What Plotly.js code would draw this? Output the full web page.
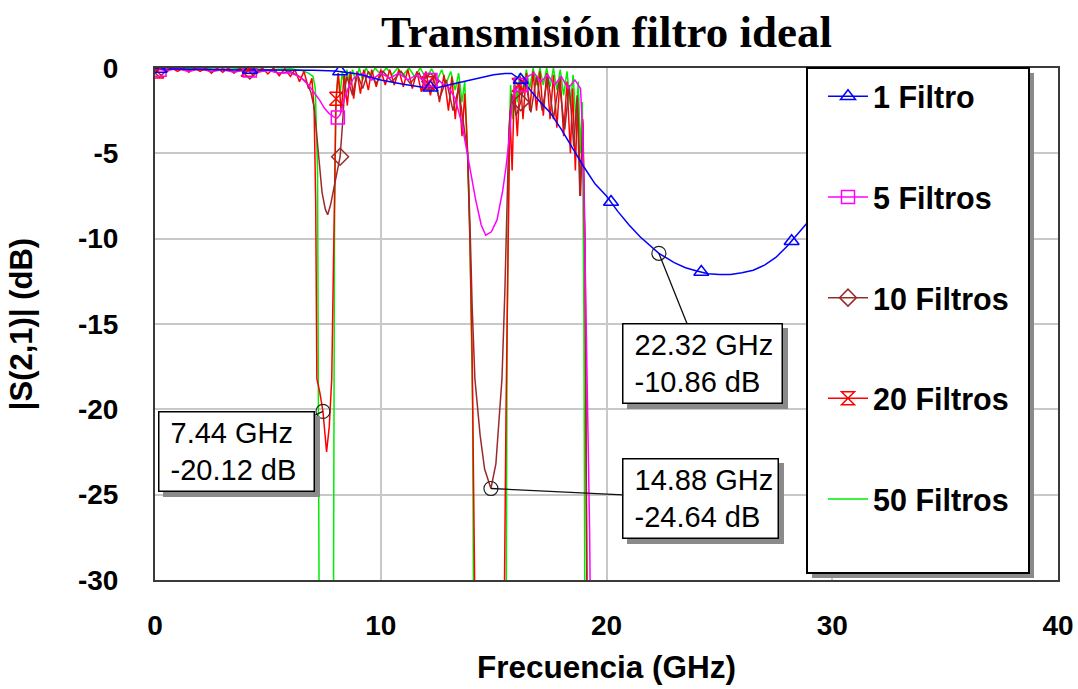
<!DOCTYPE html>
<html><head><meta charset="utf-8">
<script src="https://cdn.plot.ly/plotly-3.0.1.min.js"></script>
<style>html,body{margin:0;padding:0;background:#fff;} #chart{width:1078px;height:689px;}</style>
</head><body><div id="chart"></div>
<script>
// ---------- DATA ----------
const seriesNames = ['1 Filtro', '5 Filtros', '10 Filtros', '20 Filtros', '50 Filtros'];
const xTicks = [0, 10, 20, 30, 40];
const yTicks = [0, -5, -10, -15, -20, -25, -30];

// [frequency GHz, |S21| dB]
const filtro1 = [[0,-0.05],[1,-0.08],[2,-0.1],[3,-0.1],[4,-0.12],[5,-0.12],[6,-0.12],[7,-0.13],[8,-0.18],[9,-0.35],[10,-0.7],[11,-0.95],[12,-1.15],[12.5,-1.15],[13,-1.0],[13.5,-0.85],[14,-0.7],[14.5,-0.52],[15,-0.4],[15.5,-0.32],[15.8,-0.32],[16.2,-0.7],[16.5,-1.1],[17,-1.9],[17.5,-2.6],[18,-3.6],[18.5,-4.7],[19,-5.8],[19.5,-6.8],[20,-7.5],[20.5,-8.4],[21,-9.2],[21.5,-9.9],[22,-10.5],[22.32,-10.86],[23,-11.4],[23.5,-11.7],[24,-11.9],[24.5,-12.05],[25,-12.1],[25.5,-12.1],[26,-12.0],[26.5,-11.85],[27,-11.55],[27.5,-11.1],[28,-10.45],[28.5,-9.7],[29,-8.9],[29.5,-8.1]];
const filtros5 = [[0,-0.05],[0.5,-0.15],[1,-0.05],[1.5,-0.2],[2,-0.05],[2.5,-0.2],[3,-0.1],[3.5,-0.25],[4,-0.1],[4.5,-0.25],[5,-0.15],[5.5,-0.3],[6,-0.3],[6.4,-0.5],[6.8,-1.0],[7.0,-1.35],[7.3,-1.9],[7.5,-2.35],[7.7,-2.65],[7.9,-2.85],[8.05,-2.95],[8.2,-2.75],[8.35,-2.0],[8.55,-1.2],[8.8,-0.6],[9.2,-0.3],[9.6,-0.7],[10.0,-0.3],[10.4,-0.6],[10.8,-0.3],[11.2,-0.7],[11.6,-0.4],[12.0,-0.9],[12.4,-0.5],[12.8,-1.0],[13.0,-1.1],[13.3,-1.8],[13.6,-3.3],[13.9,-5.4],[14.2,-7.7],[14.45,-9.2],[14.65,-9.8],[14.9,-9.6],[15.15,-8.9],[15.4,-7.2],[15.55,-5.8],[15.7,-4.0],[15.8,-2.3],[15.95,-1.3],[16.2,-1.0],[16.5,-0.5],[16.8,-0.3],[17.1,-0.8],[17.4,-0.4],[17.7,-1.0],[18.0,-0.5],[18.3,-1.2],[18.6,-0.7],[18.85,-1.2],[18.95,-4],[19.05,-11],[19.15,-19],[19.25,-27],[19.35,-40],[40,-40]];
const filtros10 = [[0,0],[0.5,-0.1],[1,-0.02],[1.5,-0.15],[2,-0.05],[2.5,-0.2],[3,-0.05],[3.5,-0.2],[4,-0.1],[4.5,-0.25],[5,-0.1],[5.5,-0.3],[6,-0.2],[6.4,-0.5],[6.7,-0.8],[6.9,-1.4],[7.05,-2.3],[7.15,-3.8],[7.25,-5.5],[7.4,-7.3],[7.55,-8.3],[7.65,-8.6],[7.78,-8.0],[7.9,-7.2],[8.0,-6.4],[8.1,-5.8],[8.2,-5.2],[8.3,-3.4],[8.4,-1.3],[8.5,-0.5],[8.75,-1.6],[8.95,-0.3],[9.2,-1.2],[9.45,-0.2],[9.8,-0.9],[10.1,-0.2],[10.5,-0.8],[10.9,-0.2],[11.3,-0.9],[11.7,-0.3],[12.0,-1.2],[12.3,-0.5],[12.6,-1.8],[12.9,-0.7],[13.2,-2.5],[13.45,-1.2],[13.7,-3.5],[13.85,-5],[13.97,-10],[14.05,-14],[14.17,-18.2],[14.4,-21.5],[14.6,-23.5],[14.88,-24.64],[15.1,-23.2],[15.25,-20.5],[15.37,-18.2],[15.5,-13],[15.6,-8],[15.68,-3.5],[15.8,-1.5],[16.0,-2.8],[16.2,-2.0],[16.4,-0.6],[16.65,-2.6],[16.9,-0.5],[17.15,-2.5],[17.4,-0.5],[17.65,-3.0],[17.9,-0.8],[18.15,-3.6],[18.35,-1.0],[18.55,-4.6],[18.7,-1.6],[18.82,-7.5],[18.95,-3.2],[19.05,-10],[19.15,-35],[40,-35]];
const filtros20 = [[0,-0.2],[0.25,0],[0.5,-0.25],[0.75,0],[1,-0.2],[1.25,0],[1.5,-0.25],[1.75,0],[2,-0.2],[2.25,0],[2.5,-0.3],[2.75,0],[3,-0.25],[3.25,0],[3.5,-0.3],[3.75,0],[4,-0.3],[4.25,0],[4.5,-0.35],[4.75,0],[5,-0.35],[5.25,0],[5.5,-0.45],[5.75,-0.05],[6,-0.5],[6.2,-0.1],[6.4,-0.8],[6.6,-0.2],[6.8,-1.2],[6.95,-0.6],[7.05,-2.5],[7.12,-8],[7.17,-18.2],[7.3,-19],[7.44,-20.12],[7.6,-22.5],[7.72,-21],[7.83,-18.2],[7.9,-12],[7.97,-4],[8.02,-1.8],[8.12,-0.3],[8.25,-2.6],[8.38,-0.4],[8.52,-2.2],[8.65,-0.2],[8.8,-1.8],[8.95,-0.2],[9.1,-1.5],[9.25,-0.1],[9.45,-1.3],[9.6,-0.1],[9.8,-1.1],[10,-0.1],[10.2,-1.0],[10.4,-0.1],[10.6,-1.0],[10.8,-0.1],[11,-1.1],[11.2,-0.1],[11.4,-1.2],[11.6,-0.2],[11.8,-1.4],[12,-0.2],[12.2,-1.6],[12.4,-0.3],[12.6,-2.0],[12.8,-0.4],[13,-2.5],[13.15,-0.5],[13.3,-3.0],[13.45,-0.8],[13.6,-4.0],[13.72,-1.5],[13.85,-5],[13.95,-10],[14.05,-17],[14.2,-35],[15.45,-35],[15.55,-20],[15.65,-8],[15.72,-2.5],[15.82,-6],[15.92,-1],[16.05,-4],[16.18,-0.5],[16.3,-3],[16.45,-0.3],[16.6,-2.5],[16.75,-0.2],[16.9,-2.5],[17.05,-0.2],[17.2,-2.8],[17.35,-0.3],[17.5,-3],[17.65,-0.4],[17.8,-3.5],[17.95,-0.5],[18.1,-4],[18.25,-0.8],[18.4,-5],[18.5,-1.2],[18.62,-6],[18.72,-1.8],[18.85,-7.5],[18.95,-3],[19.05,-12],[19.15,-35],[40,-35]];
const filtros50 = [[0,0],[1,-0.05],[2,0],[3,-0.1],[4,0],[5,-0.1],[6,-0.05],[6.5,-0.15],[6.8,-0.3],[7.0,-0.5],[7.1,-1.2],[7.2,-6],[7.28,-35],[7.9,-35],[7.95,-10],[8.0,-2.5],[8.1,-0.3],[8.2,-1.5],[8.3,-0.2],[8.4,-1.2],[8.5,-0.1],[8.62,-1.0],[8.75,-0.1],[8.9,-0.8],[9.05,0],[9.2,-0.7],[9.35,0],[9.55,-0.5],[9.75,0],[10,-0.4],[10.25,0],[10.5,-0.4],[10.75,0],[11,-0.4],[11.25,0],[11.5,-0.5],[11.75,0],[12,-0.6],[12.25,-0.05],[12.5,-0.7],[12.7,-0.1],[12.9,-0.9],[13.1,-0.2],[13.3,-1.3],[13.45,-0.3],[13.6,-2.0],[13.72,-0.8],[13.82,-4],[13.95,-10],[14.07,-20],[14.12,-35],[15.55,-35],[15.6,-15],[15.68,-5],[15.75,-1],[15.85,-3],[15.95,-0.5],[16.05,-2],[16.15,-0.3],[16.3,-1.5],[16.45,-0.1],[16.6,-1.2],[16.75,0],[16.9,-1.0],[17.05,0],[17.2,-1.0],[17.35,0],[17.5,-1.1],[17.65,0],[17.8,-1.3],[17.95,-0.1],[18.1,-1.6],[18.25,-0.2],[18.4,-2.2],[18.52,-0.4],[18.65,-3.2],[18.75,-0.8],[18.85,-5],[18.93,-2],[19.0,-15],[19.05,-35],[40,-35]];

// symbol markers placed along each curve
const marks1 = [[0.2,-0.06],[4.2,-0.12],[8.2,-0.2],[12.2,-1.15],[16.2,-0.7],[20.2,-7.85],[24.2,-11.95],[28.2,-10.15]];
const marks5 = [[0.2,-0.1],[4.2,-0.15],[8.1,-2.9],[12.2,-0.7],[16.2,-1.0]];
const marks10 = [[0.2,-0.05],[4.2,-0.15],[8.2,-5.2],[12.2,-0.8],[16.2,-2.0]];
const marks20 = [[0.1,-0.2],[4.1,-0.1],[8.02,-1.8],[12.1,-0.9],[16.1,-1.0]];

// marker readouts
const readFreq = [7.44, 22.32, 14.88];
const readDb = [-20.12, -10.86, -24.64];

// ---------- STYLE ----------
const colors = ['#0000ff', '#ff00ff', '#9b2b2b', '#ff0000', '#00ee00'];
const symbols = ['triangle-up-open', 'square-open', 'diamond-open', 'hourglass-open', null];
const FONT = 'Liberation Sans, Arial, sans-serif';
const plotL = 155, plotR = 1058, plotT = 68, plotB = 580;
const pxX = px => (px - plotL) / (plotR - plotL);
const pxY = py => (plotB - py) / (plotB - plotT);

const xs = a => a.map(p => p[0]);
const ys = a => a.map(p => p[1]);

const curves = [filtro1, filtros5, filtros10, filtros20, filtros50];
const marks = [marks1, marks5, marks10, marks20, null];
const drawOrder = [4, 3, 2, 1, 0];

const traces = [];
drawOrder.forEach(i => {
  traces.push({x: xs(curves[i]), y: ys(curves[i]), mode: 'lines', type: 'scatter',
    line: {color: colors[i], width: 1.5}, showlegend: false, hoverinfo: 'skip'});
});
drawOrder.forEach(i => {
  if (!marks[i]) return;
  traces.push({x: xs(marks[i]), y: ys(marks[i]), mode: 'markers', type: 'scatter',
    marker: {symbol: symbols[i], size: 13, color: colors[i], line: {color: colors[i], width: 1.5}},
    showlegend: false, hoverinfo: 'skip'});
});
// readout circles
traces.push({x: readFreq, y: readDb, mode: 'markers', type: 'scatter',
  marker: {symbol: 'circle-open', size: 14, color: '#222', line: {color: '#222', width: 1.2}},
  showlegend: false, hoverinfo: 'skip'});
// legend entries
seriesNames.forEach((n, i) => {
  const t = {x: [null], y: [null], name: n, type: 'scatter', legendgroup: 'g' + i,
    mode: symbols[i] ? 'lines+markers' : 'lines',
    line: {color: colors[i], width: 1.5}};
  if (symbols[i]) t.marker = {symbol: symbols[i], size: 13, color: colors[i], line: {color: colors[i], width: 1.5}};
  traces.push(t);
});

const axOffsets = [[-86, 40], [44, 110], [210, 10]];
const boxW = [148, 152, 148];
const boxH = 72;
const annotations = [];
// drop shadows (empty boxes)
readFreq.forEach((f, k) => {
  annotations.push({x: f, y: readDb[k], xref: 'x', yref: 'y', text: '&nbsp;', width: boxW[k], height: boxH,
    showarrow: true, arrowcolor: 'rgba(0,0,0,0)', ax: axOffsets[k][0], ay: axOffsets[k][1],
    xshift: 5, yshift: -5, bgcolor: '#8a8a8a', bordercolor: '#8a8a8a', borderwidth: 1.5, borderpad: 3,
    font: {family: FONT, size: 10, color: 'rgba(0,0,0,0)'}});
});
readFreq.forEach((f, k) => {
  const txt = '&nbsp;' + f.toFixed(2) + ' GHz<br>&nbsp;' + readDb[k].toFixed(2) + ' dB';
  annotations.push({x: f, y: readDb[k], xref: 'x', yref: 'y', text: txt, align: 'left', width: boxW[k], height: boxH,
    showarrow: true, arrowhead: 0, arrowwidth: 1.3, arrowcolor: '#111', standoff: 0,
    ax: axOffsets[k][0], ay: axOffsets[k][1],
    bgcolor: '#ffffff', bordercolor: '#000', borderwidth: 1.5, borderpad: 3,
    font: {family: FONT, size: 29, color: '#000'}});
});

const layout = {
  width: 1078, height: 689,
  margin: {l: plotL, r: 1078 - plotR, t: plotT, b: 689 - plotB, pad: 0},
  paper_bgcolor: '#fff', plot_bgcolor: '#fff',
  font: {family: FONT, color: '#000'},
  title: {text: 'Transmisión filtro ideal', x: 0.5, xref: 'paper', xanchor: 'center',
    y: 1 - 31 / 689, yref: 'container', yanchor: 'middle',
    font: {family: 'Liberation Serif, Times New Roman, serif', size: 45, weight: 'bold', color: '#000'}},
  xaxis: {range: [0, 40], tickvals: xTicks, ticktext: xTicks.map(String), showgrid: true,
    gridcolor: '#c8c8c8', gridwidth: 2, zeroline: false, showline: true, linecolor: '#3a3a3a',
    linewidth: 2, mirror: true, ticks: '', ticklabelstandoff: 19,
    tickfont: {family: FONT, size: 28, weight: 'bold', color: '#000'},
    title: {text: 'Frecuencia (GHz)', standoff: 16, font: {family: FONT, size: 31.5, weight: 'bold', color: '#000'}}},
  yaxis: {range: [-30, 0], tickvals: yTicks, ticktext: yTicks.map(String), showgrid: true,
    gridcolor: '#c8c8c8', gridwidth: 2, zeroline: false, showline: true, linecolor: '#3a3a3a',
    linewidth: 2, mirror: true, ticks: '', ticklabelstandoff: 29,
    tickfont: {family: FONT, size: 28, weight: 'bold', color: '#000'},
    title: {text: '|S(2,1)| (dB)', standoff: 36, font: {family: FONT, size: 31, weight: 'bold', color: '#000'}}},
  showlegend: true,
  legend: {x: pxX(823), xanchor: 'left', y: pxY(70), yanchor: 'top', bgcolor: 'rgba(0,0,0,0)',
    borderwidth: 0, traceorder: 'grouped', tracegroupgap: 58, itemwidth: 40,
    font: {family: FONT, size: 30.5, weight: 'bold', color: '#000'}},
  shapes: [
    {type: 'rect', xref: 'paper', yref: 'paper', x0: pxX(812), x1: pxX(1034), y0: pxY(578), y1: pxY(73),
      fillcolor: '#8a8a8a', line: {width: 0}, layer: 'above'},
    {type: 'rect', xref: 'paper', yref: 'paper', x0: pxX(807), x1: pxX(1029), y0: pxY(573), y1: pxY(68),
      fillcolor: '#ffffff', line: {color: '#000', width: 2}, layer: 'above'}
  ],
  annotations: annotations
};

Plotly.newPlot('chart', traces, layout, {displayModeBar: false, staticPlot: true});
</script>
</body></html>
